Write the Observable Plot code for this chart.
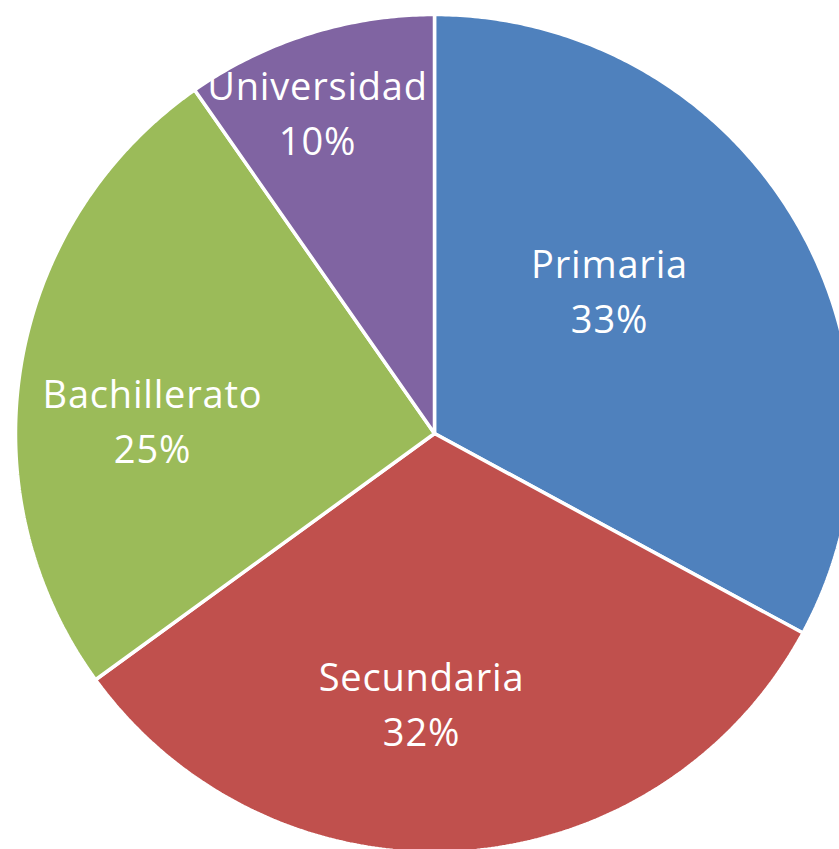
<!DOCTYPE html>
<html>
<head>
<meta charset="utf-8">
<script src="https://cdn.jsdelivr.net/npm/d3@7"></script>
<script src="https://cdn.jsdelivr.net/npm/@observablehq/plot@0.6"></script>
<style>
  html, body { margin: 0; padding: 0; background: #ffffff; }
  #chart svg { display: block; }
  #chart svg text { letter-spacing: 0.8px; }
</style>
</head>
<body>
<div id="chart"></div>
<script>
// Data (slice shares; labels show rounded percentages)
const categories = ["Primaria", "Secundaria", "Bachillerato", "Universidad"];
const shares = [32.9, 32.1, 25.3, 9.7];
const colors = ["#4F81BD", "#C0504D", "#9BBB59", "#8064A2"];

// Layout (pixels)
const W = 839, H = 849;
const CX = 434, CY = 433, R = 419;
// label anchor points, in pixels (layout only)
const labelPx = [[609, 287], [421, 700], [152, 417], [317, 109]];

const toU = px => (px - CX) / R;
const toV = py => (CY - py) / R;

// Build slice polygons in unit-circle coordinates (start at top, clockwise)
const total = d3.sum(shares);
const polys = [];
let acc = 0;
categories.forEach((name, i) => {
  const a0 = acc / total * 2 * Math.PI;
  acc += shares[i];
  const a1 = acc / total * 2 * Math.PI;
  polys.push({name, u: 0, v: 0});
  const n = Math.max(2, Math.ceil((a1 - a0) / (Math.PI / 360)));
  for (let k = 0; k <= n; k++) {
    const a = a0 + (a1 - a0) * k / n;
    polys.push({name, u: Math.sin(a), v: Math.cos(a)});
  }
  polys.push({name, u: 0, v: 0});
});

const labels = categories.map((name, i) => ({
  name,
  text: `${name}\n${Math.round(shares[i] / total * 100)}%`,
  u: toU(labelPx[i][0]),
  v: toV(labelPx[i][1])
}));

const chart = Plot.plot({
  width: W,
  height: H,
  margin: 0,
  style: {background: "#ffffff"},
  x: {domain: [toU(0), toU(W)], range: [0, W], axis: null},
  y: {domain: [toV(H), toV(0)], range: [H, 0], axis: null},
  color: {domain: categories, range: colors},
  marks: [
    Plot.line(polys, {
      x: "u", y: "v", z: "name", fill: "name",
      stroke: "#ffffff", strokeWidth: 3.5, strokeLinejoin: "miter", curve: "linear"
    }),
    Plot.text(labels, {
      x: "u", y: "v", text: "text",
      fill: "#ffffff", fontSize: 38, lineHeight: 1.45,
      fontFamily: "'Open Sans', sans-serif",
      textAnchor: "middle", lineAnchor: "middle"
    })
  ]
});
document.getElementById("chart").appendChild(chart);
</script>
</body>
</html>
